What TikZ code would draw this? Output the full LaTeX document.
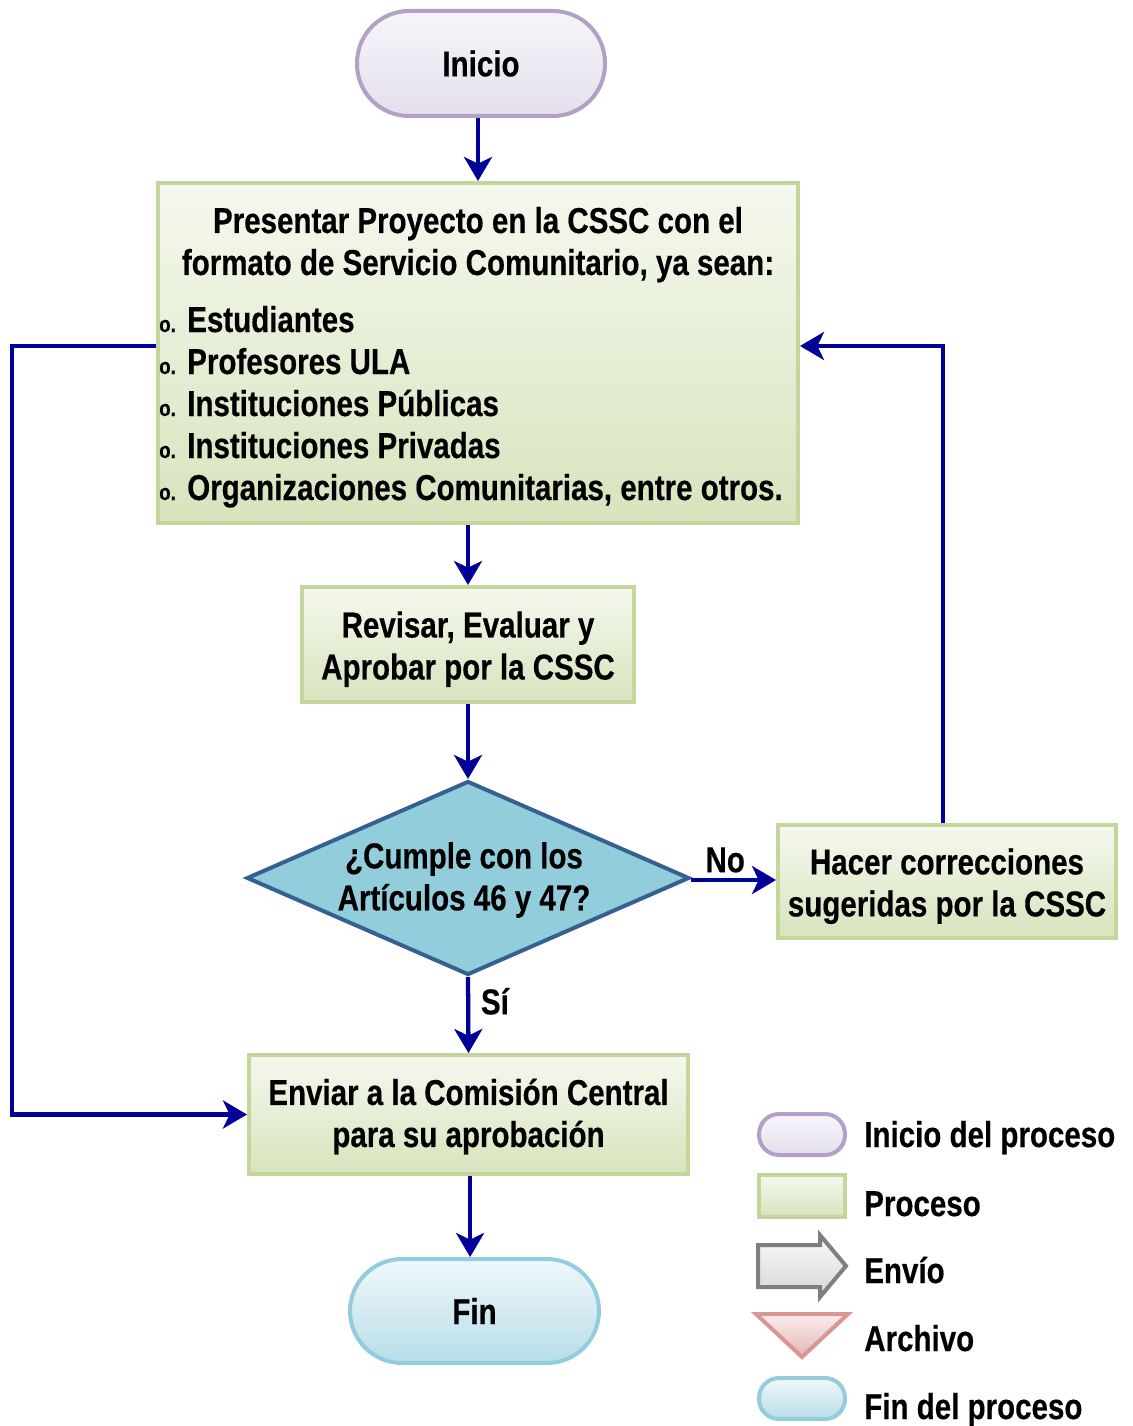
\documentclass[tikz,border=0pt]{standalone}
\usepackage{fontspec}
\setmainfont{Liberation Sans}[FakeStretch=0.82,FakeBold=0.4]
\usetikzlibrary{arrows.meta,shapes.geometric}

\definecolor{flowblue}{RGB}{0,0,153}
\definecolor{startLine}{RGB}{178,161,199}
\definecolor{startTop}{RGB}{247,245,250}
\definecolor{startBot}{RGB}{228,223,236}
\definecolor{procLine}{RGB}{195,214,155}
\definecolor{procTop}{RGB}{245,248,238}
\definecolor{procBot}{RGB}{215,228,189}
\definecolor{decFill}{RGB}{146,205,220}
\definecolor{decLine}{RGB}{55,96,146}
\definecolor{endLine}{RGB}{147,205,221}
\definecolor{endTop}{RGB}{240,248,251}
\definecolor{endBot}{RGB}{183,221,232}
\definecolor{sendLine}{RGB}{127,127,127}
\definecolor{sendTop}{RGB}{250,250,250}
\definecolor{sendBot}{RGB}{214,214,214}
\definecolor{fileLine}{RGB}{217,150,148}
\definecolor{fileTop}{RGB}{250,238,238}
\definecolor{fileBot}{RGB}{228,180,179}

\newcommand\itemmark{\makebox[21pt][l]{\fontsize{17pt}{17pt}\selectfont o.}}

\begin{document}
\begin{tikzpicture}[x=0.75pt,y=-0.75pt,
  font=\fontsize{27pt}{31.5pt}\selectfont\bfseries,
  flow/.style={draw=flowblue, line width=3.2pt,
    -{Stealth[length=18pt,width=21pt,inset=5pt]}},
  startbox/.style={rectangle, draw=startLine, line width=3pt,
    top color=startTop, bottom color=startBot, align=center, inner sep=0pt},
  endbox/.style={rectangle, draw=endLine, line width=3pt,
    top color=endTop, bottom color=endBot, align=center, inner sep=0pt},
  procbox/.style={rectangle, draw=procLine, line width=3pt,
    top color=procTop, bottom color=procBot, inner sep=0pt},
  decbox/.style={diamond, draw=decLine, fill=decFill, line width=3pt,
    inner sep=0pt, aspect=2.28},
  boxtext/.style={align=center, inner sep=0pt},
  itemline/.style={anchor=base west, inner sep=0pt},
  keytext/.style={anchor=base west, inner sep=0pt}]

\useasboundingbox (0,0) rectangle (1132,1426);

% main flow
\node[startbox, minimum width=186pt, minimum height=78.75pt, rounded corners=39pt]
  (ini) at (481,63.5) {Inicio};

\node[procbox, minimum width=480pt, minimum height=255pt] (b1) at (478,353) {};
\node[anchor=base, inner sep=0pt] (h1) at (478,233) {Presentar Proyecto en la CSSC con el};
\node[anchor=base, inner sep=0pt] (h2) at (478,275) {formato de Servicio Comunitario, ya sean:};
\node[itemline] (i1) at (159,332) {\itemmark Estudiantes};
\node[itemline] (i2) at (159,374) {\itemmark Profesores ULA};
\node[itemline] (i3) at (159,416) {\itemmark Instituciones Públicas};
\node[itemline] (i4) at (159,458) {\itemmark Instituciones Privadas};
\node[itemline] (i5) at (159,500) {\itemmark Organizaciones Comunitarias, entre otros.};

\node[procbox, minimum width=249pt, minimum height=86.25pt] (b2) at (468,644.5) {};
\node[boxtext] (b2t) at ([yshift=-3.5pt]b2.center) {Revisar, Evaluar y\\Aprobar por la CSSC};

\node[decbox, minimum width=332pt, minimum height=145.5pt] (dec) at (468,878) {};
\node[boxtext] (dect) at ([xshift=-3pt,yshift=-1.5pt]dec.center) {¿Cumple con los\\Artículos 46 y 47?};

\node[procbox, minimum width=253.5pt, minimum height=84.75pt] (hc) at (947,881.5) {};
\node[boxtext] (hct) at ([yshift=-3.5pt]hc.center) {Hacer correcciones\\sugeridas por la CSSC};

\node[procbox, minimum width=329.25pt, minimum height=89.25pt] (b3) at (468.5,1114.5) {};
\node[boxtext] (b3t) at ([yshift=-1.5pt]b3.center) {Enviar a la Comisión Central\\para su aprobación};

\node[endbox, minimum width=186.75pt, minimum height=78pt, rounded corners=39pt]
  (fin) at (474.5,1311) {Fin};

% connectors
\draw[flow] (b1.north |- ini.south) -- (b1.north);
\draw[flow] (b2.north |- b1.south) -- (b2.north);
\draw[flow] (b2.south) -- (dec.north);
\draw[flow] ([yshift=-1.5pt]dec.east) -- ([yshift=-1.5pt]dec.east -| hc.west)
  node[pos=0.4, above, inner sep=4pt] (no) {No};
\draw[flow] (dec.south) -- (b3.north) node[pos=0.32, right, inner sep=8pt] (si) {Sí};
\draw[flow] ([xshift=1.2pt]b3.south) -- ([xshift=1.2pt]b3.south |- fin.north);

\coordinate (rgt) at (943,346);
\draw[flow] (rgt |- hc.north) -- (rgt) -- ([yshift=5.25pt]b1.east);

\coordinate (lft) at (12,346);
\draw[flow] ([yshift=5.25pt]b1.west) -- (lft) |- (b3.west);

% key
\node[startbox, minimum width=64.5pt, minimum height=30.75pt, rounded corners=15pt]
  (kA) at (802,1134.5) {};
\node[procbox, minimum width=64.5pt, minimum height=31.5pt] (kB) at (802,1196) {};
\path[draw=sendLine, line width=3pt, top color=sendTop, bottom color=sendBot]
  (758,1245) -- (820,1245) -- (820,1235) -- (846,1266) -- (820,1297)
  -- (820,1287) -- (758,1287) -- cycle;
\path[draw=fileLine, line width=3pt, top color=fileTop, bottom color=fileBot]
  (756,1314) -- (848,1314) -- (802,1357) -- cycle;
\node[endbox, minimum width=64.5pt, minimum height=30.75pt, rounded corners=15pt]
  (kE) at (802,1398.5) {};

\node[keytext] (tA) at (864,1147) {Inicio del proceso};
\node[keytext] (tB) at (864,1216) {Proceso};
\node[keytext] (tC) at (864,1283) {Envío};
\node[keytext] (tD) at (864,1351) {Archivo};
\node[keytext] (tE) at (864,1419) {Fin del proceso};
\end{tikzpicture}
\end{document}
